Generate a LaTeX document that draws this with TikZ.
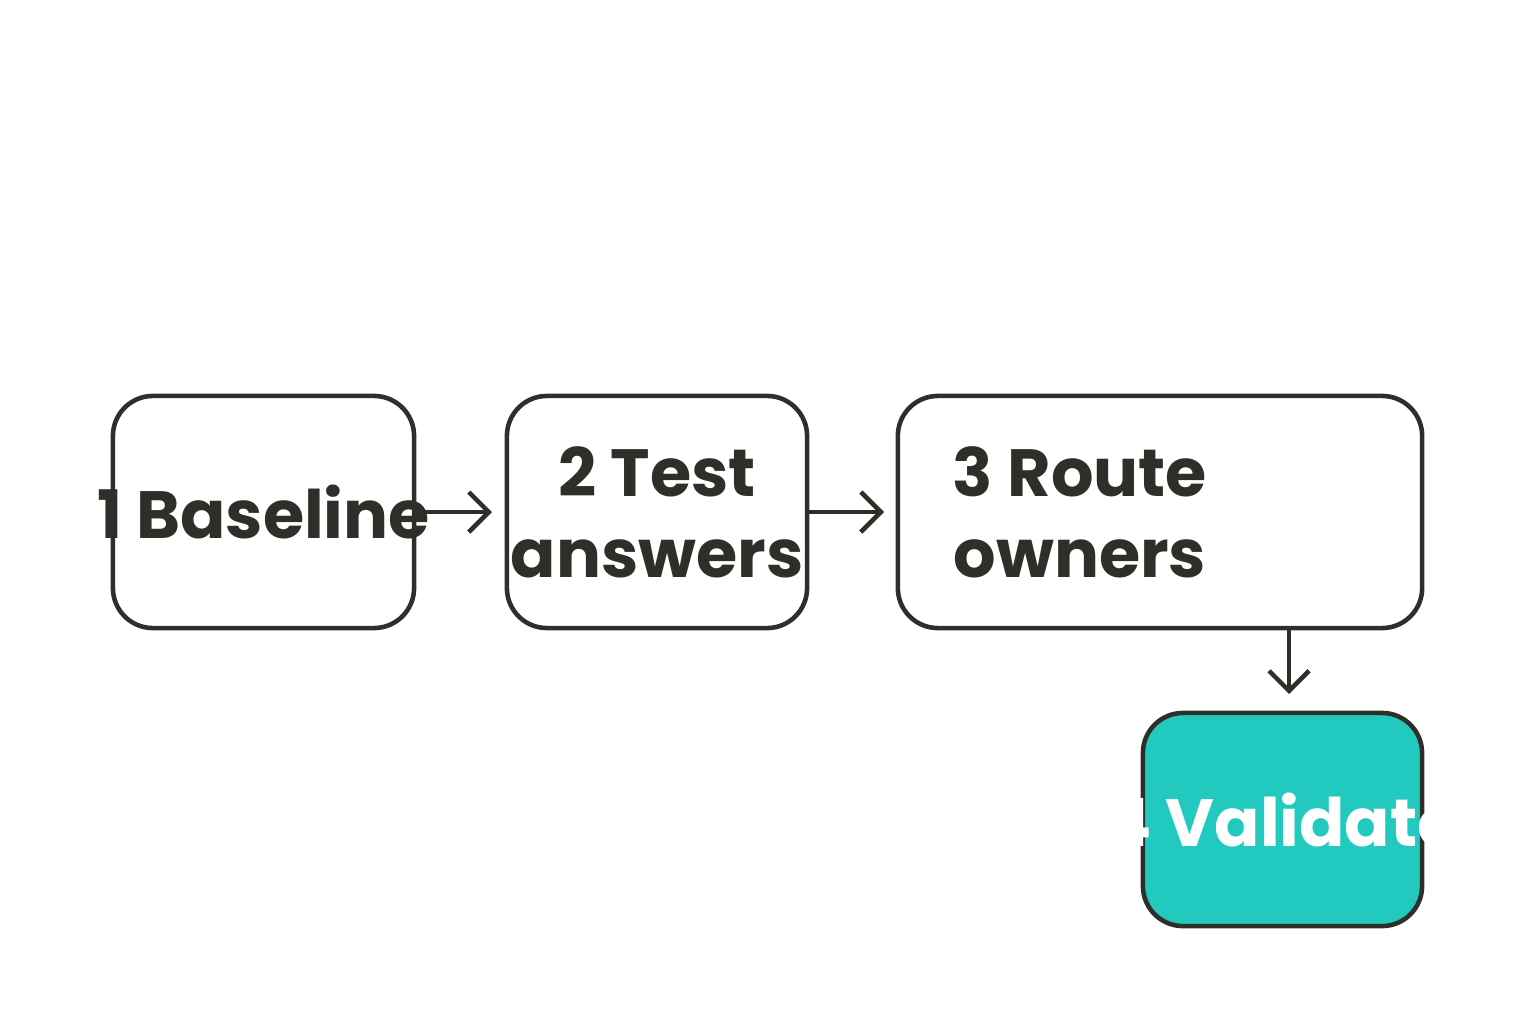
\documentclass[tikz,border=0pt]{standalone}
\usepackage{fontspec}
\setmainfont{Poppins}
\usetikzlibrary{arrows.meta}
\definecolor{ink}{HTML}{2F2F2A}
\definecolor{teal}{HTML}{22C9BE}
\begin{document}
\begin{tikzpicture}[
    x=0.01cm, y=-0.01cm,
    stepbox/.style={draw=ink, line width=1.3pt, rounded corners=0.4cm, fill=white},
    label/.style={text=ink, font=\fontsize{19}{23}\selectfont\bfseries, align=center},
    flow/.style={draw=ink, line width=1.3pt, -{Straight Barb[length=0.2cm,width=0.4cm]}},
    ]
    \useasboundingbox (0,0) rectangle (1536,1024);
    \node[stepbox, minimum width=3.01cm, minimum height=2.32cm] (b1) at (263.5,512) {};
    \node[stepbox, minimum width=3.00cm, minimum height=2.32cm] (b2) at (657,512) {};
    \node[stepbox, minimum width=5.24cm, minimum height=2.32cm] (b3) at (1160,512) {};
    \node[stepbox, fill=teal, minimum width=2.79cm, minimum height=2.13cm] (b4) at (1282.5,819.5) {};
    \node[label] (t1) at (b1) {1 Baseline};
    \node[label] (t2) at (b2) {2 Test\\answers};
    \node[label] (t3) at (1080,512) {3 Route\\owners};
    \node[label, text=white] (t4) at (b4) {4 Validate};
    \coordinate (a1) at (492,512);
    \coordinate (a2) at (884,512);
    \coordinate (d3) at (1289,628);
    \coordinate (a3) at (1289,694);
    \draw[flow] (b1.east) -- (a1);
    \draw[flow] (b2.east) -- (a2);
    \draw[flow] (d3) -- (a3);
\end{tikzpicture}
\end{document}
